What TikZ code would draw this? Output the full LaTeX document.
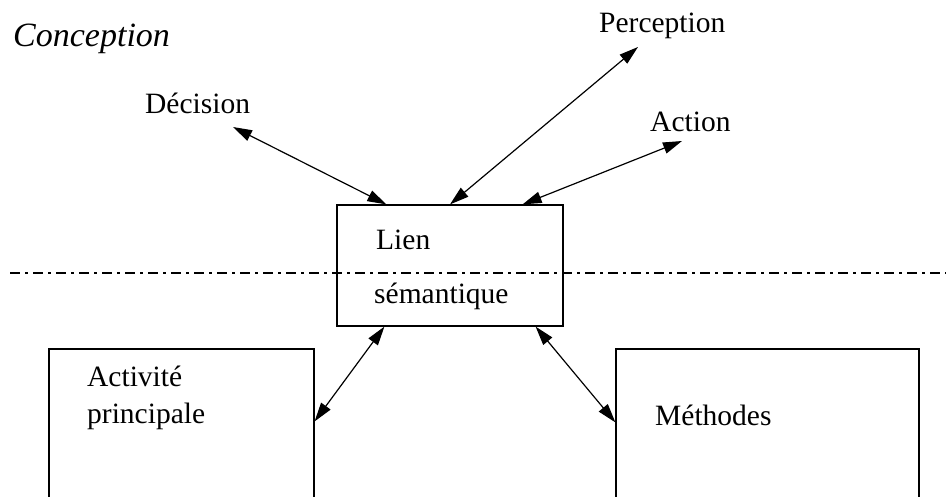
\documentclass[tikz,border=0pt]{standalone}
\usepackage{fontspec}
\setmainfont{Liberation Serif}
\usetikzlibrary{arrows.meta}
\begin{document}
\begin{tikzpicture}[x=1pt,y=-1pt,
  box/.style={draw,line width=1.2pt,inner sep=0pt},
  lbl/.style={anchor=base west,inner sep=0pt,font=\fontsize{29.5}{33}\selectfont},
  link/.style={line width=1.2pt,{Triangle[length=19pt,width=11.5pt]}-{Triangle[length=19pt,width=11.5pt]}},
  sep/.style={line width=1.1pt,dash pattern=on 10pt off 5pt on 2.5pt off 5.5pt}]
\useasboundingbox (0,0) rectangle (946,497);
\clip (0,0) rectangle (946,497);

% title
\node[lbl,font=\fontsize{34}{38}\selectfont\itshape] (conc) at (13,47) {Conception};

% outer labels
\node[lbl] (perc) at (599,33) {Perception};
\node[lbl] (dec)  at (145,114) {Décision};
\node[lbl] (actn) at (650,132) {Action};

% free ends of the upper links
\coordinate (decend)  at (233,127);
\coordinate (percend) at (638,47);
\coordinate (actend)  at (682,141);

% boxes
\node[box,minimum width=226pt,minimum height=121pt] (lien) at (450,265.5) {};
\node[box,minimum width=265pt,minimum height=181pt] (act)  at (181.5,439.5) {};
\node[box,minimum width=303pt,minimum height=181pt] (meth) at (767.5,439.5) {};

% separation line
\coordinate (sepl) at (10,273);
\coordinate (sepr) at (946,273);
\draw[sep] (sepl) -- (sepr);

% box texts
\node[lbl] (lien1) at (376,250) {Lien};
\node[lbl] (lien2) at (374,304) {sémantique};
\node[lbl] (act1)  at (87,386) {Activité};
\node[lbl] (act2)  at (87,423) {principale};
\node[lbl] (meth1) at (655,425) {Méthodes};

% links
\draw[link] (decend)  -- ([xshift=50pt]lien.north west);
\draw[link] (percend) -- (lien.north);
\draw[link] (actend)  -- ([xshift=-41pt]lien.north east);
\draw[link] ([xshift=48pt]lien.south west) -- ([yshift=-73pt]act.north east);
\draw[link] ([xshift=-28pt]lien.south east) -- ([yshift=-74pt]meth.north west);
\end{tikzpicture}
\end{document}
